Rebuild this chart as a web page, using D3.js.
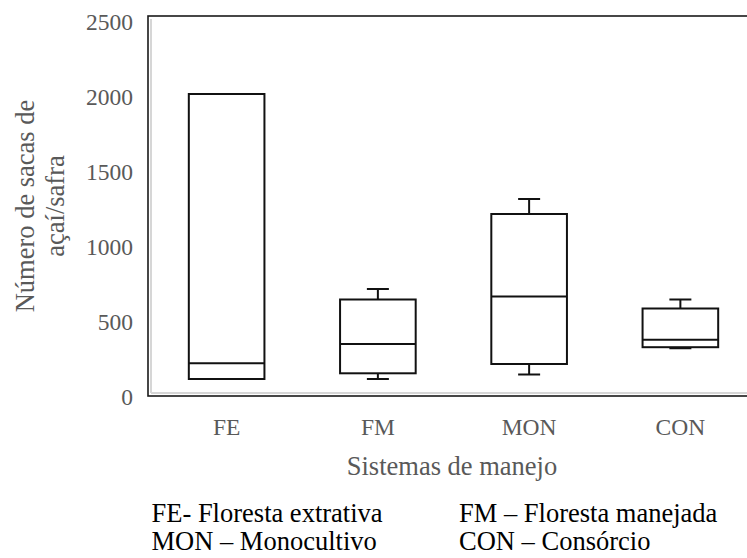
<!DOCTYPE html>
<html>
<head>
<meta charset="utf-8">
<script src="https://cdn.jsdelivr.net/npm/d3@7"></script>
<style>
  html, body { margin: 0; padding: 0; background: #fff; }
  svg { display: block; }
</style>
</head>
<body>
<svg id="chart" width="747" height="558"></svg>
<script>
// Management systems and the box-plot statistics of sacks of açaí per harvest
const categories = ["FE", "FM", "MON", "CON"];
const minValues    = [100, 100, 130, 305];
const q1Values     = [100, 138, 200, 312];
const medianValues = [205, 333, 650, 362];
const q3Values     = [2000, 630, 1200, 570];
const maxValues    = [2000, 700, 1300, 630];
const yTicks = [0, 500, 1000, 1500, 2000, 2500];
const legendLines = [
  ["FE- Floresta extrativa", "FM – Floresta manejada"],
  ["MON – Monocultivo", "CON – Consórcio"]
];

const SERIF = "'Liberation Serif', 'Times New Roman', serif";
const GREY = "#595959";

const svg = d3.select("#chart").attr("font-family", SERIF);

const frame = { left: 148, top: 16, right: 760, bottom: 396 };

const x = d3.scaleBand()
  .domain(categories)
  .range([151, 756])
  .paddingInner(0.5)
  .paddingOuter(0.25);

const y = d3.scaleLinear().domain([0, 2500]).range([394, 19]);

const boxes = categories.map((c, i) => ({
  cat: c, min: minValues[i], q1: q1Values[i], med: medianValues[i],
  q3: q3Values[i], max: maxValues[i]
}));

// Plot area: light inner edge on the left and bottom, dark outer border
svg.append("line")
  .attr("x1", 151).attr("x2", 151)
  .attr("y1", 19).attr("y2", 393)
  .attr("stroke", "#d6d6d6").attr("stroke-width", 2);
svg.append("line")
  .attr("x1", 151).attr("x2", 747)
  .attr("y1", 393).attr("y2", 393)
  .attr("stroke", "#d6d6d6").attr("stroke-width", 2);
svg.append("rect")
  .attr("x", frame.left).attr("y", frame.top)
  .attr("width", frame.right - frame.left)
  .attr("height", frame.bottom - frame.top)
  .attr("fill", "none").attr("stroke", "#1a1a1a").attr("stroke-width", 1.6);

// Y axis tick labels (no tick marks)
const yAxis = d3.axisLeft(y).tickValues(yTicks).tickFormat(d3.format("d"))
  .tickSize(0).tickPadding(0);
const gy = svg.append("g").attr("transform", "translate(133,0)").call(yAxis)
  .attr("font-family", SERIF).attr("font-size", 23.5);
gy.select(".domain").remove();
gy.selectAll("text")
  .attr("x", 0).attr("dy", null).attr("y", 10.5)
  .attr("text-anchor", "end")
  .attr("fill", GREY);

// X axis category labels
const xAxis = d3.axisBottom(x).tickSize(0).tickPadding(0);
const gx = svg.append("g").attr("transform", "translate(0,435)").call(xAxis)
  .attr("font-family", SERIF).attr("font-size", 23.5);
gx.select(".domain").remove();
gx.selectAll("text")
  .attr("y", 0).attr("dy", null)
  .attr("fill", GREY);

// Box plots
const g = svg.append("g").attr("stroke", "#111").attr("stroke-width", 2).attr("fill", "none");
const bw = x.bandwidth();
const capW = 22;

boxes.forEach(d => {
  const cx = x(d.cat) + bw / 2;
  // whiskers
  g.append("line").attr("x1", cx).attr("x2", cx).attr("y1", y(d.max)).attr("y2", y(d.q3));
  g.append("line").attr("x1", cx).attr("x2", cx).attr("y1", y(d.q1)).attr("y2", y(d.min));
  g.append("line").attr("x1", cx - capW / 2).attr("x2", cx + capW / 2).attr("y1", y(d.max)).attr("y2", y(d.max));
  g.append("line").attr("x1", cx - capW / 2).attr("x2", cx + capW / 2).attr("y1", y(d.min)).attr("y2", y(d.min));
  // box
  g.append("rect")
    .attr("x", x(d.cat)).attr("y", y(d.q3))
    .attr("width", bw).attr("height", y(d.q1) - y(d.q3))
    .attr("fill", "#fff");
  // median
  g.append("line").attr("x1", x(d.cat)).attr("x2", x(d.cat) + bw)
    .attr("y1", y(d.med)).attr("y2", y(d.med));
});

// Axis titles
svg.append("text")
  .attr("x", 452).attr("y", 475)
  .attr("text-anchor", "middle")
  .attr("font-family", SERIF)
  .attr("font-size", 26.5).attr("fill", GREY)
  .text("Sistemas de manejo");

const yTitle = svg.append("text")
  .attr("transform", "translate(0,206) rotate(-90)")
  .attr("text-anchor", "middle")
  .attr("font-family", SERIF)
  .attr("font-size", 26.5).attr("fill", GREY);
yTitle.append("tspan").attr("x", 0).attr("y", 34).text("Número de sacas de");
yTitle.append("tspan").attr("x", 0).attr("y", 64).text("açaí/safra");

// Abbreviation key
const keyX = [151.5, 459];
const keyY = [522, 550];
legendLines.forEach((row, r) => {
  row.forEach((t, c) => {
    svg.append("text")
      .attr("x", keyX[c]).attr("y", keyY[r])
      .attr("font-family", SERIF)
      .attr("font-size", 26.5).attr("fill", "#000")
      .text(t);
  });
});
</script>
</body>
</html>
